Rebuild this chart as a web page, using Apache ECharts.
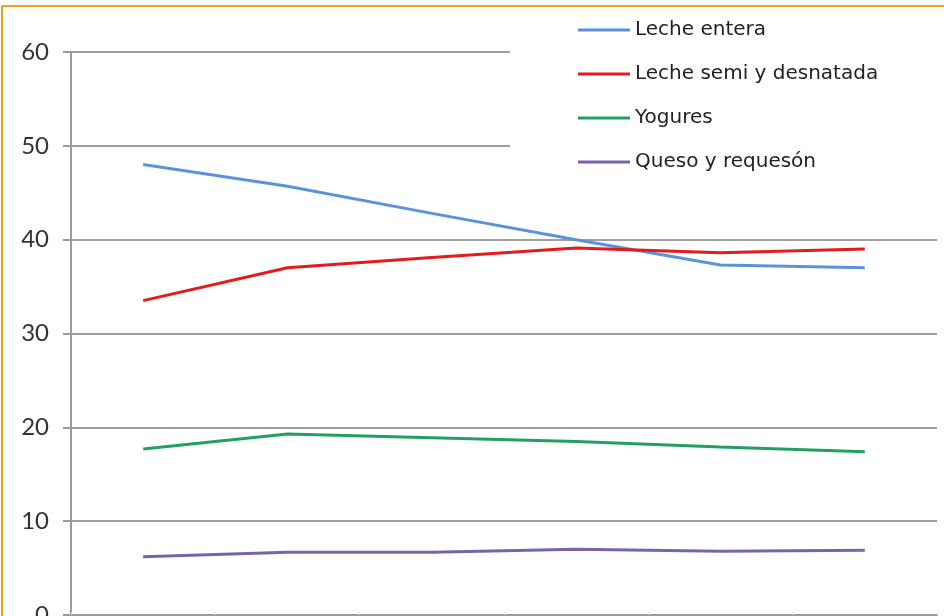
<!DOCTYPE html>
<html>
<head>
<meta charset="utf-8">
<script src="https://cdn.jsdelivr.net/npm/echarts@6/dist/echarts.min.js"></script>
<style>
  html, body { margin: 0; padding: 0; background: #fff; }
  #chart { width: 944px; height: 616px; }
</style>
</head>
<body>
<div id="chart"></div>
<script>
  // categories are cut off in the source picture, labels hidden
  const categories = ["1", "2", "3", "4", "5", "6"];
  const yTicks = [0, 10, 20, 30, 40, 50, 60];

  const lecheEntera = [48, 45.7, 42.8, 40, 37.3, 37];
  const lecheSemi = [33.5, 37, 38.1, 39.1, 38.6, 39];
  const yogures = [17.7, 19.3, 18.9, 18.5, 17.9, 17.4];
  const queso = [6.2, 6.7, 6.7, 7.0, 6.8, 6.9];

  const seriesNames = ["Leche entera", "Leche semi y desnatada", "Yogures", "Queso y requesón"];
  const seriesColors = ["#5B93DA", "#E31B1B", "#22A062", "#7B63AC"];

  const chart = echarts.init(document.getElementById("chart"));

  const makeLine = (name, data, color) => ({
    name: name,
    type: "line",
    data: data,
    showSymbol: false,
    symbol: "none",
    lineStyle: { color: color, width: 3 },
    itemStyle: { color: color },
    z: 3,
  });

  const option = {
    animation: false,
    backgroundColor: "#fff",
    textStyle: { fontFamily: "Lato" },
    grid: { left: 71, right: 7, top: 52, bottom: 1, containLabel: false, outerBoundsMode: "none" },
    legend: {
      orient: "vertical",
      left: 510,
      top: 6,
      padding: [14, 120, 30, 68],
      backgroundColor: "#fff",
      itemWidth: 52,
      itemHeight: 3,
      itemGap: 24,
      icon: "rect",
      z: 10,
      textStyle: { color: "#222", fontSize: 20, fontFamily: "DejaVu Sans" },
      data: seriesNames,
    },
    xAxis: {
      type: "category",
      data: categories,
      boundaryGap: true,
      axisLine: { lineStyle: { color: "#9a9a9a", width: 2 } },
      axisTick: { show: true, inside: true, length: 3, lineStyle: { color: "#d8d8d8" } },
      axisLabel: { show: false },
      splitLine: { show: false },
    },
    yAxis: {
      type: "value",
      min: yTicks[0],
      max: yTicks[yTicks.length - 1],
      interval: 10,
      axisLine: { show: true, lineStyle: { color: "#9a9a9a", width: 2 } },
      axisTick: { show: true, length: 8, lineStyle: { color: "#9a9a9a", width: 2 } },
      axisLabel: { color: "#333", fontSize: 24, margin: 22, fontFamily: "Lato" },
      splitLine: { show: true, lineStyle: { color: "#9f9f9f", width: 2 } },
    },
    graphic: [
      {
        type: "rect",
        z: 100,
        shape: { x: 2, y: 6, width: 1200, height: 1200 },
        style: { fill: "none", stroke: "#F99B1C", lineWidth: 2 },
        silent: true,
      },
    ],
    series: [
      makeLine(seriesNames[0], lecheEntera, seriesColors[0]),
      makeLine(seriesNames[1], lecheSemi, seriesColors[1]),
      makeLine(seriesNames[2], yogures, seriesColors[2]),
      makeLine(seriesNames[3], queso, seriesColors[3]),
    ],
  };

  option && chart.setOption(option);
</script>
</body>
</html>
